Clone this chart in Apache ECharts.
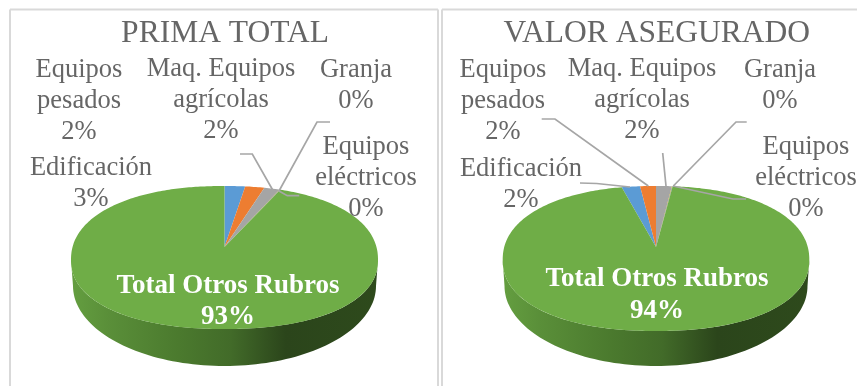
<!DOCTYPE html>
<html>
<head>
<meta charset="utf-8">
<style>html,body{margin:0;padding:0;background:#fff}#c{width:857px;height:386px}</style>
<script src="https://cdn.jsdelivr.net/npm/echarts@6/dist/echarts.min.js"></script>
</head>
<body>
<div id="c"></div>
<script>
const categories = ['Edificación', 'Equipos\npesados', 'Maq. Equipos\nagrícolas', 'Granja', 'Equipos\neléctricos', 'Total Otros Rubros'];
const chartTitles = ['PRIMA TOTAL', 'VALOR ASEGURADO'];
const primaValues = [2.6, 2.4, 1.9, 0.05, 0.05, 93];
const valorValues = [2.3, 2.0, 2.0, 0.05, 0.05, 93.6];
const sliceColors = ['#5B9BD5', '#ED7D31', '#A5A5A5', '#FFC000', '#4472C4', '#6FAD47'];

const FONT = '"Liberation Serif","Times New Roman",serif';
const TEXT = '#666666', LEADER = '#A6A6A6';
const P = 2.2;

const layouts = [
  { startPct: 0, cx: 224.5, cy: 260, rx: 153.5, ryTop: 74, ryBot: 69, apexX: 224.5, apexY: 247, k: 74,
    wall: { cx: 224.5, cy: 286, rx: 151.5, ry: 80 },
    titleX: 225,
    labels: [[91, 184], [79, 101], [221, 100], [356, 86], [366, 178], [228, 301.5]],
    leaders: [null, [[240, 154], [252.3, 154], [272.7, 190]], null,
      [[330, 122], [317, 122], [279, 191]], [[279, 191], [287.3, 195.7], [299.3, 195.7]], null] },
  { startPct: -4.3, cx: 656, cy: 260, rx: 153.3, ryTop: 74, ryBot: 71, apexX: 656, apexY: 247, k: 74,
    wall: { cx: 656, cy: 286, rx: 151.5, ry: 80 },
    titleX: 656.7,
    labels: [[521, 185], [503, 101], [642, 100], [780, 86], [806, 178], [657, 295]],
    leaders: [[[580, 183], [596.7, 183.5], [630, 187]], [[541.7, 119], [555, 119], [648.3, 186]],
      [[662.7, 153], [666, 186]], [[746.7, 122], [736, 122], [673.3, 186]],
      [[673, 186], [733, 199], [746, 199]], null] }
];

function insideRim(g, x, y) {
  const ry = y < g.cy ? g.ryTop : g.ryBot;
  return Math.pow(Math.abs(x - g.cx) / g.rx, P) + Math.pow(Math.abs(y - g.cy) / ry, P) < 1;
}

function rimPoint(g, deg) {
  const a = deg * Math.PI / 180;
  const dx = g.rx * Math.sin(a), dy = -g.k * Math.cos(a);
  let lo = 0, hi = 4;
  for (let i = 0; i < 40; i++) {
    const t = (lo + hi) / 2;
    if (insideRim(g, g.apexX + t * dx, g.apexY + t * dy)) lo = t; else hi = t;
  }
  return [g.apexX + lo * dx, g.apexY + lo * dy];
}

function wallPoints(g) {
  const pts = [];
  for (let i = 0; i <= 180; i += 2) {
    const a = i * Math.PI / 180;
    const c = Math.cos(a), s = Math.sin(a);
    const r = Math.pow(Math.pow(Math.abs(c), P) + Math.pow(s, P), -1 / P);
    pts.push([g.cx + g.rx * r * c, g.cy + g.ryBot * r * s]);
  }
  for (let i = 180; i >= 0; i -= 2) {
    const a = i * Math.PI / 180;
    pts.push([g.wall.cx + g.wall.rx * Math.cos(a), g.wall.cy + g.wall.ry * Math.sin(a)]);
  }
  return pts;
}

function makeSeries(values, g) {
  let sum = 0;
  const data = values.map(v => { const row = [v, sum]; sum += v; return row; });
  return {
    type: 'custom',
    coordinateSystem: 'none',
    silent: true,
    clip: false,
    data: data,
    renderItem: function (params, api) {
      const i = params.dataIndex;
      const value = api.value(0), before = api.value(1);
      const start = (before + g.startPct) * 3.6, end = (before + value + g.startPct) * 3.6;
      const pts = [[g.apexX, g.apexY]];
      const n = Math.max(1, Math.ceil((end - start)));
      for (let s = 0; s <= n; s++) pts.push(rimPoint(g, start + (end - start) * s / n));
      const children = [];
      const isTotal = i === categories.length - 1;
      if (isTotal) {
        children.push({
          type: 'polygon', z2: 1, shape: { points: wallPoints(g) },
          style: { fill: {
            type: 'linear', x: 0, y: 0, x2: 1, y2: 0,
            colorStops: [
              { offset: 0, color: '#649E40' }, { offset: 0.12, color: '#5A8F39' },
              { offset: 0.35, color: '#4B7A2E' }, { offset: 0.52, color: '#426B29' },
              { offset: 0.70, color: '#2B451B' }, { offset: 1, color: '#2E4A1C' }
            ] } }
        });
      }
      children.push({
        type: 'polygon', z2: 2, shape: { points: pts },
        style: { fill: sliceColors[i] }
      });
      const line = g.leaders[i];
      if (line) {
        children.push({
          type: 'polyline', z2: 10, shape: { points: line },
          style: { fill: null, stroke: LEADER, lineWidth: 1.7 }
        });
      }
      const pos = g.labels[i];
      const pct = Math.round(value) + '%';
      children.push({
        type: 'text', z2: 20,
        style: {
          x: pos[0], y: pos[1],
          text: categories[i] + '\n' + pct,
          align: 'center', verticalAlign: 'middle',
          fontFamily: FONT,
          fontSize: isTotal ? 27 : 26.5,
          lineHeight: isTotal ? 31.5 : 31,
          fontWeight: isTotal ? 'bold' : 'normal',
          fill: isTotal ? '#FFFFFF' : TEXT
        }
      });
      return { type: 'group', children: children };
    }
  };
}

const frameLines = [[[10, 9.5], [10, 386]], [[10, 9.5], [438, 9.5]], [[438, 9.5], [438, 386]],
                    [[442, 9.5], [442, 386]], [[442, 9.5], [857, 9.5]]];

const chart = echarts.init(document.getElementById('c'), null, { renderer: 'canvas' });
chart.setOption({
  animation: false,
  backgroundColor: '#FFFFFF',
  title: chartTitles.map((t, i) => ({
    text: t, left: layouts[i].titleX, top: 18, padding: 0, textAlign: 'center',
    textStyle: { fontFamily: FONT, fontSize: 31.5, fontWeight: 'normal', color: TEXT }
  })),
  graphic: frameLines.map(p => ({
    type: 'line', silent: true, z: -1,
    shape: { x1: p[0][0], y1: p[0][1], x2: p[1][0], y2: p[1][1] },
    style: { stroke: '#D9D9D9', lineWidth: 2 }
  })),
  series: [makeSeries(primaValues, layouts[0]), makeSeries(valorValues, layouts[1])]
});
</script>
</body>
</html>
